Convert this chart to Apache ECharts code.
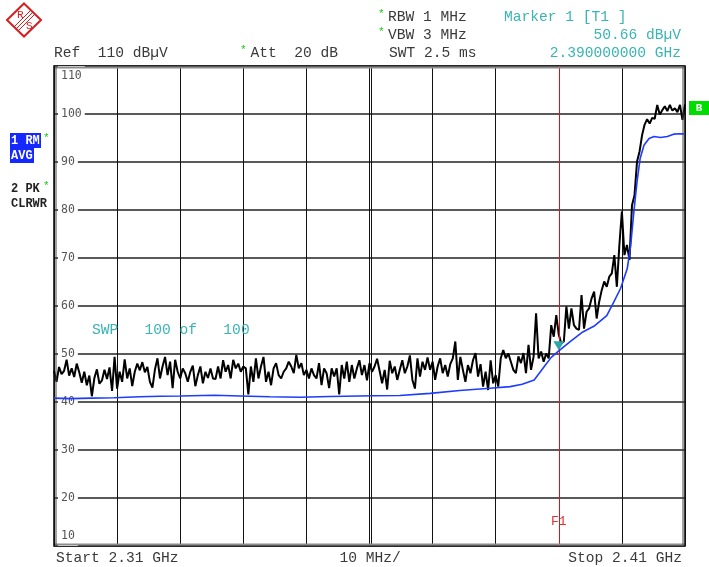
<!DOCTYPE html>
<html>
<head>
<meta charset="utf-8">
<script src="https://cdn.jsdelivr.net/npm/echarts/dist/echarts.min.js"></script>
<style>
html,body{margin:0;padding:0;background:#fff;}
#chart{width:709px;height:567px;}
</style>
</head>
<body>
<div id="chart"></div>
<script>
// ---- data ----
const yTicks = [10, 20, 30, 40, 50, 60, 70, 80, 90, 100, 110];
const freqStartMHz = 2310;
const freqStopMHz = 2410;
const blackStepMHz = 0.4; // sweep point spacing of the PK trace values below
const blackVals = [
46.5,44.2,47.3,45.8,46.5,48.8,45.5,47.0,45.2,48.0,
46.2,44.0,46.3,43.5,45.5,41.2,45.0,46.8,43.8,44.5,
46.7,44.8,47.2,42.3,49.4,42.8,46.3,44.2,48.9,44.9,
47.0,43.3,46.3,48.0,46.6,48.3,46.2,47.3,44.2,43.0,
46.8,49.1,44.9,47.4,49.4,45.6,48.4,42.9,48.8,46.3,
44.9,47.0,46.0,44.2,46.3,47.6,43.3,45.6,47.4,43.9,
46.3,45.0,47.0,44.9,
44.8,47.4,44.9,48.7,46.3,47.7,44.9,48.8,47.0,48.0,
46.3,47.4,47.0,41.6,47.4,44.2,49.1,44.9,47.4,49.4,
44.2,46.3,43.5,47.0,48.1,45.6,44.9,46.3,47.0,48.4,
47.4,46.0,49.8,47.0,48.1,45.6,46.7,44.9,47.0,45.6,
44.9,48.1,43.5,47.0,46.0,42.9,47.0,45.3,47.0,41.6,
47.7,44.9,48.4,44.2,47.7,44.9,47.0,48.7,45.6,47.7,
44.5,48.1,46.3,
47.4,49.0,46.5,43.9,46.7,42.6,48.6,46.0,47.4,44.6,
46.7,48.7,46.0,47.4,49.7,44.6,42.8,49.1,45.3,48.4,
46.7,49.3,46.7,48.4,44.6,47.4,49.1,46.0,47.7,45.3,
47.9,49.1,52.6,44.6,49.4,46.7,44.2,47.7,46.0,48.7,
50.2,45.3,47.9,43.2,46.3,42.5,48.7,43.9,45.6,43.2,
49.1,50.8,49.1,50.1,48.4,46.7,46.0,49.5,48.1,50.2,
46.0,51.9,46.7,49.4,
58.5,49.1,50.5,48.4,50.1,49.1,56.0,53.6,58.1,54.0,
52.2,52.6,59.9,55.3,59.5,56.0,55.3,55.0,62.3,55.3,
58.8,59.5,61.6,63.0,57.4,60.9,63.3,65.1,64.0,66.1,
66.8,70.6,64.0,72.7,79.7,70.6,72.7,69.6,81.0,83.1,
90.1,92.2,95.6,97.8,98.9,98.0,99.2,99.0,101.9,99.9,
100.8,101.6,100.6,101.9,100.7,101.2,100.4,101.9,98.8,102.0
];
const blueFreq = [2310,2312.5,2315.9,2319.5,2323.6,2326.8,2330,2335.4,2339.5,2344.2,2349,2353.7,2360.7,2364.8,2369.6,2374.3,2379.1,2382.3,2384.2,2386.1,2387.7,2388.8,2390,2391.8,2393.8,2395.7,2397.6,2398.75,2399.8,2400.85,2401.4,2401.9,2402.4,2402.9,2403.5,2404.3,2405.1,2406.1,2407.2,2408.2,2409.2,2410];
const blueVals = [40.8,40.7,40.8,40.9,41.1,41.2,41.25,41.4,41.25,41.1,41.0,41.15,41.3,41.35,41.8,42.4,42.85,43.2,43.7,44.6,47.4,49.3,50.66,52.6,54.6,55.9,58.0,60.9,63.7,67.8,72.7,79.7,85.9,90.8,93.5,94.9,95.3,95.1,95.3,95.8,95.9,95.8];
const markerFreq = 2390;
const markerLevel = 50.66;
const centerFreq = 2360;

// ---- build ----
const blackData = blackVals.map((v, i) => [freqStartMHz + i * blackStepMHz, v]);
const blueData = blueFreq.map((f, i) => [f, blueVals[i]]);

const mono = "'Liberation Mono','Courier New',monospace";
const FS = 14.6;
const teal = '#3ab4b4';
const dark = '#3a3a3a';
const green = '#11cc11';

function txt(x, y, text, opt) {
  opt = opt || {};
  return {
    type: 'text', x: x, y: y, z: 100,
    style: {
      text: text,
      font: (opt.weight || 'normal') + ' ' + (opt.size || FS) + 'px ' + mono,
      fill: opt.color || dark,
      align: opt.align || 'left',
      verticalAlign: 'middle'
    }
  };
}

const chart = echarts.init(document.getElementById('chart'), null, {renderer: 'canvas'});
chart.setOption({
  animation: false,
  backgroundColor: '#fff',
  grid: {left: 54, right: 24, top: 66, bottom: 21, show: true, borderColor: '#000', borderWidth: 1.5, backgroundColor: '#fff'},
  xAxis: {
    type: 'value', min: freqStartMHz, max: freqStopMHz, interval: 10,
    axisLine: {show: false}, axisTick: {show: false}, axisLabel: {show: false},
    splitLine: {show: true, lineStyle: {color: '#111', width: 1}}
  },
  yAxis: {
    type: 'value', min: yTicks[0], max: yTicks[yTicks.length - 1], interval: 10,
    axisLine: {show: false}, axisTick: {show: false},
    axisLabel: {
      inside: true, margin: 4, color: '#555', fontFamily: "'DejaVu Sans Mono',monospace", fontSize: 11.5,
      backgroundColor: '#fff', padding: [4, 3, 4, 3],
      verticalAlignMaxLabel: 'top', verticalAlignMinLabel: 'bottom'
    },
    splitLine: {show: true, lineStyle: {color: '#222', width: 1.6}}
  },
  series: [
    {
      name: 'PK', type: 'line', data: blackData, showSymbol: false, symbol: 'none',
      lineStyle: {color: '#000', width: 2}, z: 4,
      markLine: {
        silent: true, symbol: ['none', 'none'], label: {show: false},
        data: [
          {xAxis: centerFreq + 0.32, lineStyle: {color: '#111', width: 1, type: 'solid'}},
          {xAxis: markerFreq, lineStyle: {color: '#e01010', width: 1, type: 'solid'}}
        ]
      },
      markPoint: {
        silent: true,
        data: [{coord: [markerFreq, 15], symbol: 'circle', symbolSize: 1,
          itemStyle: {color: 'rgba(0,0,0,0)'},
          label: {show: true, position: 'inside', formatter: 'F1', color: '#e03030', fontFamily: mono, fontSize: 13}}]
      }
    },
    {
      name: 'RM', type: 'line', data: blueData, showSymbol: false, symbol: 'none',
      lineStyle: {color: '#1e3cff', width: 1.6}, z: 5,
      markPoint: {
        silent: true,
        data: [{coord: [markerFreq, markerLevel], symbol: 'triangle', symbolRotate: 180,
          symbolSize: [11, 9], symbolOffset: [0, -5], itemStyle: {color: '#2aa8a8'}, label: {show: false}}]
      }
    }
  ],
  graphic: [
    // frame accents
    {type: 'line', z: 90, shape: {x1: 55, y1: 67.5, x2: 684, y2: 67.5}, style: {stroke: '#8c8c8c', lineWidth: 2}},
    {type: 'line', z: 90, shape: {x1: 55, y1: 544.5, x2: 684, y2: 544.5}, style: {stroke: '#8c8c8c', lineWidth: 2}},
    {type: 'line', z: 90, shape: {x1: 56, y1: 67, x2: 56, y2: 545}, style: {stroke: '#444', lineWidth: 1}},
    {type: 'line', z: 90, shape: {x1: 683, y1: 67, x2: 683, y2: 545}, style: {stroke: '#444', lineWidth: 1}},
    // R&S logo
    {type: 'polygon', z: 100, shape: {points: [[24, 3.5], [41, 20], [24, 36.5], [7, 20]]}, style: {fill: '#fff', stroke: '#d41f1f', lineWidth: 2}},
    {type: 'line', z: 100, shape: {x1: 14, y1: 27, x2: 31, y2: 10}, style: {stroke: '#d41f1f', lineWidth: 1}},
    {type: 'line', z: 100, shape: {x1: 16, y1: 29, x2: 33, y2: 12}, style: {stroke: '#d41f1f', lineWidth: 1}},
    {type: 'line', z: 100, shape: {x1: 18, y1: 31, x2: 35, y2: 14}, style: {stroke: '#d41f1f', lineWidth: 1}},
    txt(17, 15, 'R', {color: '#d41f1f', size: 11}),
    txt(26, 26, 'S', {color: '#d41f1f', size: 11}),
    // header
    txt(54, 53, 'Ref  110 dBµV'),
    txt(240, 50, '*', {color: green, size: 11}),
    txt(250.5, 53, 'Att  20 dB'),
    txt(378, 14, '*', {color: green, size: 11}),
    txt(388, 17, 'RBW 1 MHz'),
    txt(378, 32, '*', {color: green, size: 11}),
    txt(388, 35, 'VBW 3 MHz'),
    txt(389, 53, 'SWT 2.5 ms'),
    txt(504, 17, 'Marker 1 [T1 ]', {color: teal}),
    txt(681, 35, '50.66 dBµV', {color: teal, align: 'right'}),
    txt(681, 53, '2.390000000 GHz', {color: teal, align: 'right'}),
    // left trace labels
    {type: 'rect', z: 99, shape: {x: 10, y: 133, width: 31, height: 15}, style: {fill: '#1428ff'}},
    {type: 'rect', z: 99, shape: {x: 10, y: 148, width: 24, height: 15}, style: {fill: '#1428ff'}},
    txt(11, 140.5, '1 RM', {color: '#fff', size: 12, weight: 'bold'}),
    txt(11, 155.5, 'AVG', {color: '#fff', size: 12, weight: 'bold'}),
    txt(43, 138, '*', {color: green, size: 11}),
    txt(11, 188.5, '2 PK', {color: '#222', size: 12, weight: 'bold'}),
    txt(43, 186, '*', {color: green, size: 11}),
    txt(11, 204, 'CLRWR', {color: '#222', size: 12, weight: 'bold'}),
    // B box
    {type: 'rect', z: 99, shape: {x: 689, y: 101, width: 20, height: 14}, style: {fill: '#00dd00'}},
    txt(699, 108.5, 'B', {color: '#fff', size: 11, weight: 'bold', align: 'center'}),
    // sweep count
    txt(92, 330, 'SWP   100 of   100', {color: teal}),
    // bottom
    txt(56, 558, 'Start 2.31 GHz'),
    txt(339.5, 558, '10 MHz/'),
    txt(682, 558, 'Stop 2.41 GHz', {align: 'right'})
  ]
});
</script>
</body>
</html>
